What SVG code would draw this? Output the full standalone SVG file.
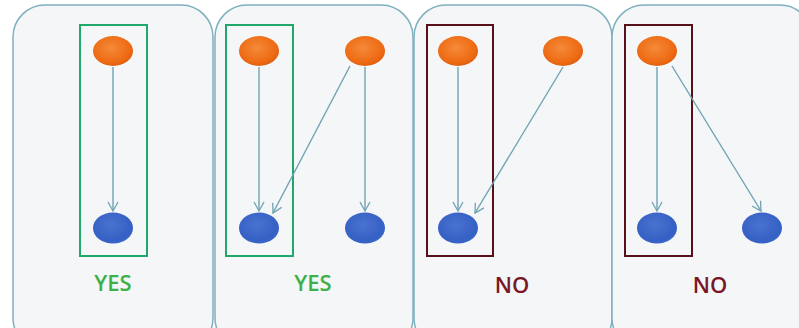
<svg xmlns="http://www.w3.org/2000/svg" width="799" height="328" viewBox="0 0 799 328">
<defs>
<radialGradient id="og" cx="0.45" cy="0.4" r="0.6">
<stop offset="0" stop-color="#f58a3a"/>
<stop offset="0.8" stop-color="#ee6a12"/>
<stop offset="1" stop-color="#e06010"/>
</radialGradient>
<radialGradient id="bg" cx="0.45" cy="0.4" r="0.6">
<stop offset="0" stop-color="#4a72d0"/>
<stop offset="0.85" stop-color="#3560c4"/>
<stop offset="1" stop-color="#3a66c8"/>
</radialGradient>
<marker id="ah" markerWidth="12" markerHeight="12" viewBox="0 0 12 12" refX="10" refY="6" orient="auto" markerUnits="userSpaceOnUse">
<path d="M1,1 L10,6 L1,11" fill="none" stroke="#6fa3b3" stroke-width="1.3"/>
</marker>
<style>
.panel{fill:#f5f6f7;stroke:#7fb0bf;stroke-width:1.5}
.or{fill:url(#og)}
.bl{fill:url(#bg)}
.gbox{fill:none;stroke:#1fa86a;stroke-width:2}
.rbox{fill:none;stroke:#5a1018;stroke-width:2}
.edge{stroke:#6fa3b3;stroke-width:1.4;fill:none;marker-end:url(#ah)}
.yes{font-family:"Open Sans","Liberation Sans",sans-serif;font-size:22px;font-weight:600;fill:#3db04a;text-anchor:middle}
.no{font-family:"Open Sans","Liberation Sans",sans-serif;font-size:22px;font-weight:600;fill:#7a1626;text-anchor:middle}
</style>
</defs>
<g id="panel1">
<rect class="panel" x="13" y="5" width="200" height="345" rx="32"/>
<rect class="gbox" x="80" y="25" width="67" height="231"/>
<ellipse class="or" cx="113" cy="51" rx="20" ry="15"/>
<ellipse class="bl" cx="113" cy="228" rx="20" ry="15.5"/>
<text class="yes" x="113" y="291">YES</text>
</g>
<g id="panel2">
<rect class="panel" x="215" y="5" width="198" height="345" rx="32"/>
<rect class="gbox" x="226" y="25" width="67" height="231"/>
<ellipse class="or" cx="259" cy="51" rx="20" ry="15"/>
<ellipse class="or" cx="365" cy="51" rx="20" ry="15"/>
<ellipse class="bl" cx="259" cy="228" rx="20" ry="15.5"/>
<ellipse class="bl" cx="365" cy="228" rx="20" ry="15.5"/>
<text class="yes" x="313" y="291">YES</text>
</g>
<g id="panel3">
<rect class="panel" x="414" y="5" width="198" height="345" rx="32"/>
<rect class="rbox" x="427" y="25" width="66" height="231"/>
<ellipse class="or" cx="458" cy="51" rx="20" ry="15"/>
<ellipse class="or" cx="563" cy="51" rx="20" ry="15"/>
<ellipse class="bl" cx="458" cy="228" rx="20" ry="15.5"/>
<text class="no" x="512" y="293">NO</text>
</g>
<g id="panel4">
<rect class="panel" x="612" y="5" width="200" height="345" rx="32"/>
<rect class="rbox" x="625" y="25" width="67" height="231"/>
<ellipse class="or" cx="657" cy="51" rx="20" ry="15"/>
<ellipse class="bl" cx="657" cy="228" rx="20" ry="15.5"/>
<ellipse class="bl" cx="762" cy="228" rx="20" ry="15.5"/>
<text class="no" x="710" y="293">NO</text>
</g>
<g id="connectors">
<line class="edge" x1="113" y1="67" x2="113" y2="211"/>
<line class="edge" x1="259" y1="67" x2="259" y2="211"/>
<line class="edge" x1="350" y1="66" x2="273" y2="213"/>
<line class="edge" x1="365" y1="67" x2="365" y2="211"/>
<line class="edge" x1="458" y1="67" x2="458" y2="211"/>
<line class="edge" x1="563" y1="67" x2="475" y2="213"/>
<line class="edge" x1="657" y1="67" x2="657" y2="211"/>
<line class="edge" x1="672" y1="66" x2="761" y2="211"/>
</g>
</svg>
